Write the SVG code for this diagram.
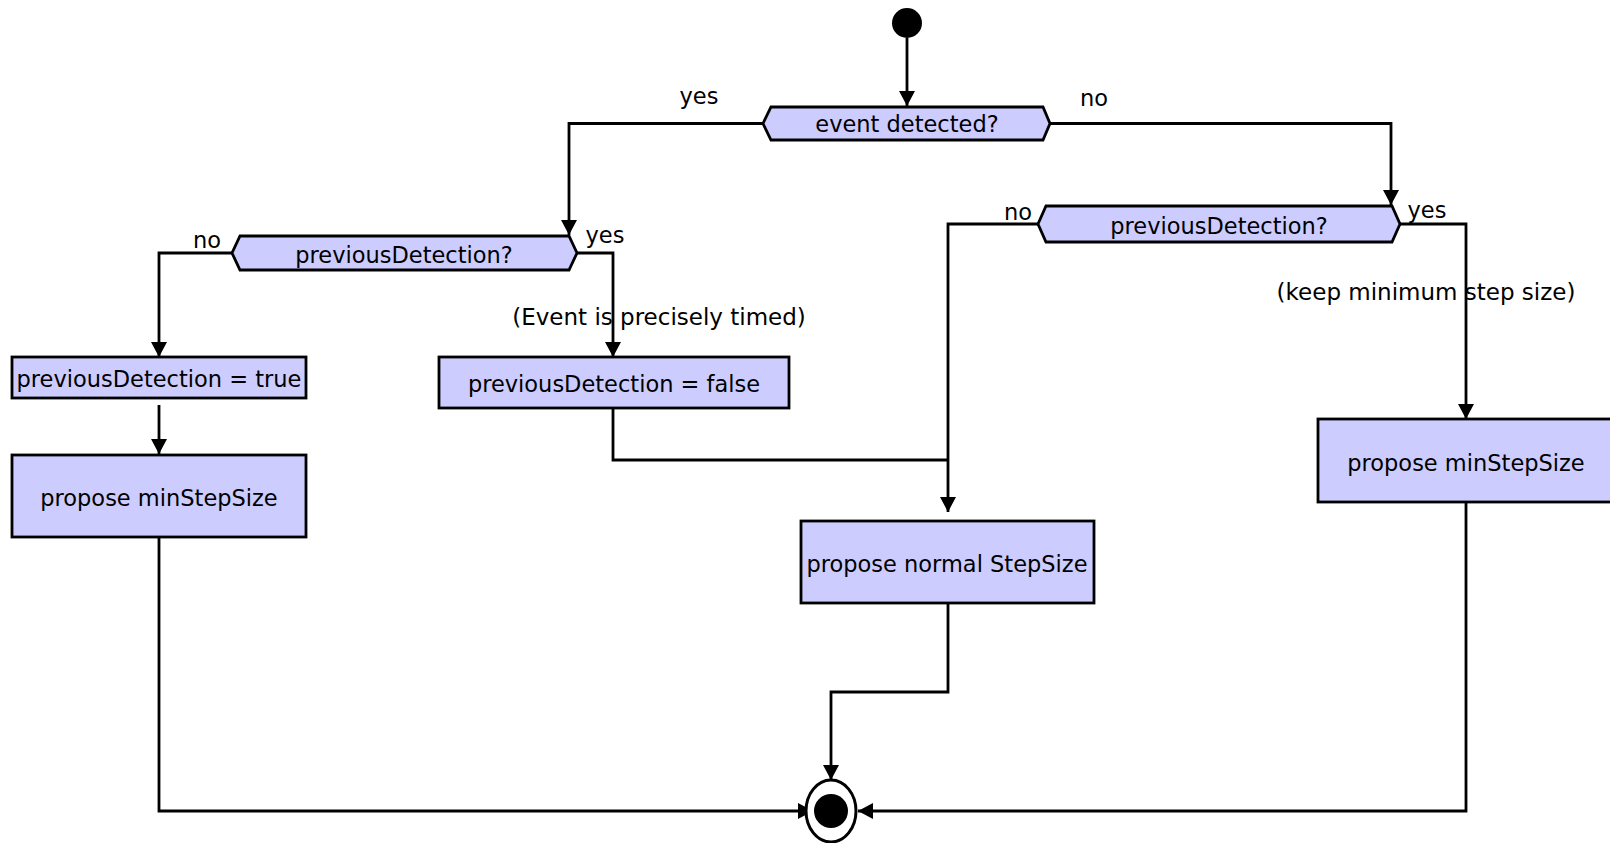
<svg xmlns="http://www.w3.org/2000/svg" width="1610" height="843" viewBox="0 0 1610 843">
<style>
.n{fill:#ccccff;stroke:#000;stroke-width:2.8}
.t{font-family:"DejaVu Sans",sans-serif;font-size:22.5px;fill:#000;text-anchor:middle}
.l{font-size:23px}
.c{fill:none;stroke:#000;stroke-width:2.8}
</style>
<defs>
<marker id="a" markerUnits="userSpaceOnUse" markerWidth="16" markerHeight="16" viewBox="0 0 15 16" refX="15" refY="8" orient="auto">
<path d="M0,0 L15,8 L0,16 Z" fill="#000"/>
</marker>
</defs>
<rect width="1610" height="843" fill="#fff"/>
<g id="connectors">
<path class="c" d="M907,38 V106" marker-end="url(#a)"/>
<path class="c" d="M763,123.5 H569 V235" marker-end="url(#a)"/>
<path class="c" d="M1050,123.5 H1391 V205" marker-end="url(#a)"/>
<path class="c" d="M232,253 H159 V357" marker-end="url(#a)"/>
<path class="c" d="M577,253 H613 V357" marker-end="url(#a)"/>
<path class="c" d="M159,405 V454" marker-end="url(#a)"/>
<path class="c" d="M613,408 V460 H948"/>
<path class="c" d="M1038,224 H948 V512" marker-end="url(#a)"/>
<path class="c" d="M1400,224 H1466 V419" marker-end="url(#a)"/>
<path class="c" d="M948,603 V692 H831 V780" marker-end="url(#a)"/>
<path class="c" d="M159,537 V811 H813" marker-end="url(#a)"/>
<path class="c" d="M1466,502 V811 H858" marker-end="url(#a)"/>
<text class="t" x="699" y="104">yes</text>
<text class="t" x="1094" y="106">no</text>
<text class="t" x="207" y="248">no</text>
<text class="t" x="605" y="243">yes</text>
<text class="t" x="1018" y="220">no</text>
<text class="t" x="1427" y="218">yes</text>
<text class="t l" x="659" y="325">(Event is precisely timed)</text>
<text class="t l" x="1426" y="300">(keep minimum step size)</text>
</g>
<g id="start"><circle cx="907" cy="23" r="15" fill="#000"/></g>
<g id="eventDetected">
<polygon class="n" points="763,123.5 771,107 1043,107 1050,123.5 1043,140 771,140"/>
<text class="t" x="907" y="132">event detected?</text>
</g>
<g id="prevDetLeft">
<polygon class="n" points="232,253 240,236 569,236 577,253 569,270 240,270"/>
<text class="t" x="404" y="263">previousDetection?</text>
</g>
<g id="prevDetRight">
<polygon class="n" points="1038,224 1046,206 1392,206 1400,224 1392,242 1046,242"/>
<text class="t" x="1219" y="234">previousDetection?</text>
</g>
<g id="setTrue">
<rect class="n" x="12" y="357" width="294" height="41"/>
<text class="t" x="159" y="387">previousDetection = true</text>
</g>
<g id="minLeft">
<rect class="n" x="12" y="455" width="294" height="82"/>
<text class="t" x="159" y="506">propose minStepSize</text>
</g>
<g id="setFalse">
<rect class="n" x="439" y="357" width="350" height="51"/>
<text class="t" x="614" y="392">previousDetection = false</text>
</g>
<g id="normal">
<rect class="n" x="801" y="521" width="293" height="82"/>
<text class="t" x="947" y="572">propose normal StepSize</text>
</g>
<g id="minRight">
<rect class="n" x="1318" y="419" width="296" height="83"/>
<text class="t" x="1466" y="471">propose minStepSize</text>
</g>
<g id="end">
<ellipse cx="831" cy="811" rx="25" ry="31" fill="#fff" stroke="#000" stroke-width="3"/>
<circle cx="831" cy="811" r="17" fill="#000"/>
</g>
</svg>
